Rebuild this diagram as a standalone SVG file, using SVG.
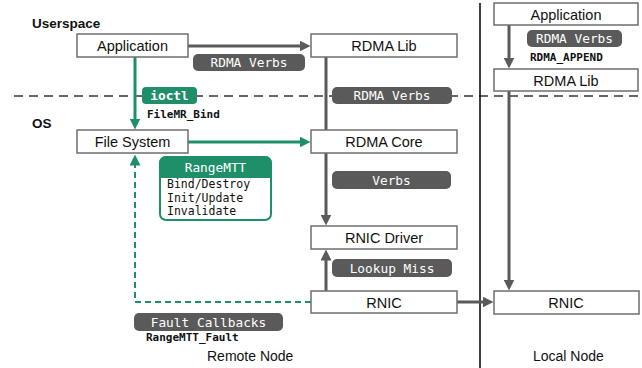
<svg xmlns="http://www.w3.org/2000/svg" width="642" height="368" viewBox="0 0 642 368">
<style>
.box{fill:#fff;stroke:#6e6e6e;stroke-width:1.5}
.lbl{font-family:"Liberation Sans",Arial,sans-serif;font-size:14.5px;fill:#111;text-anchor:middle}
.hdr{font-family:"Liberation Sans",Arial,sans-serif;font-size:13.5px;font-weight:bold;fill:#111}
.cap{font-family:"Liberation Sans",Arial,sans-serif;font-size:14px;fill:#111}
.pill{fill:#5a5a5a}
.gpill{fill:#1f8f6a}
.ptxt{font-family:"DejaVu Sans Mono",monospace;font-size:12.8px;fill:#fff;text-anchor:middle}
.mono{font-family:"DejaVu Sans Mono",monospace;font-size:11px;font-weight:bold;fill:#111}
.list{font-family:"DejaVu Sans Mono",monospace;font-size:11.5px;fill:#111}
.ga{fill:none;stroke:#5a5a5a;stroke-width:3}
.gr{fill:none;stroke:#1f8f6a;stroke-width:3}
.gd{fill:none;stroke:#1f8f6a;stroke-width:2;stroke-dasharray:6 4}
</style>
<defs>
<marker id="ag" viewBox="0 0 11 11" refX="0.5" refY="5.5" markerWidth="11" markerHeight="11" markerUnits="userSpaceOnUse" orient="auto"><path d="M0,0 L11,5.5 L0,11 z" fill="#5a5a5a"/></marker>
<marker id="agr" viewBox="0 0 11 11" refX="0.5" refY="5.5" markerWidth="11" markerHeight="11" markerUnits="userSpaceOnUse" orient="auto"><path d="M0,0 L11,5.5 L0,11 z" fill="#1f8f6a"/></marker>
</defs>
<rect width="642" height="368" fill="#fff"/>
<g id="separators">
<line x1="14" y1="96" x2="642" y2="96" stroke="#666" stroke-width="2" stroke-dasharray="9 6"/>
<line x1="480" y1="3" x2="480" y2="368" stroke="#000" stroke-width="1.5"/>
</g>
<text class="hdr" x="32" y="28">Userspace</text>
<text class="hdr" x="32" y="128">OS</text>
<g id="connectors">
<path class="ga" d="M188,46 H300" marker-end="url(#ag)"/>
<path class="gr" d="M135,57 V119" marker-end="url(#agr)"/>
<path class="gr" d="M188,142 H300" marker-end="url(#agr)"/>
<path class="ga" d="M326,57 V215" marker-end="url(#ag)"/>
<path class="ga" d="M509,25 V58" marker-end="url(#ag)"/>
<path class="ga" d="M509,91 V280" marker-end="url(#ag)"/>
<path class="ga" d="M326,291 V260" marker-end="url(#ag)"/>
<path class="ga" d="M457,302 H483" marker-end="url(#ag)"/>
<path class="gd" d="M311,302 H135 V165" marker-end="url(#agr)"/>
</g>
<g id="app-remote"><rect class="box" x="77" y="34" width="111" height="23"/><text class="lbl" x="132.5" y="51">Application</text></g>
<g id="rdmalib-remote"><rect class="box" x="311" y="34" width="146" height="23"/><text class="lbl" x="384" y="51">RDMA Lib</text></g>
<g id="fs"><rect class="box" x="77" y="130" width="111" height="23"/><text class="lbl" x="132.5" y="147">File System</text></g>
<g id="rdmacore"><rect class="box" x="311" y="130" width="146" height="23"/><text class="lbl" x="384" y="147">RDMA Core</text></g>
<g id="rnicdriver"><rect class="box" x="311" y="226" width="146" height="23"/><text class="lbl" x="384" y="243">RNIC Driver</text></g>
<g id="rnic-remote"><rect class="box" x="311" y="291" width="146" height="22"/><text class="lbl" x="384" y="308">RNIC</text></g>
<g id="app-local"><rect class="box" x="494" y="3" width="144" height="22"/><text class="lbl" x="566" y="20">Application</text></g>
<g id="rdmalib-local"><rect class="box" x="494" y="69" width="144" height="22"/><text class="lbl" x="566" y="86">RDMA Lib</text></g>
<g id="rnic-local"><rect class="box" x="494" y="291" width="145" height="23"/><text class="lbl" x="566" y="308">RNIC</text></g>
<g id="rangemtt">
<rect x="160" y="157" width="111" height="63" rx="6" fill="#fff" stroke="#1f8f6a" stroke-width="2"/>
<path d="M160,177 V163 A6,6 0 0 1 166,157 H265 A6,6 0 0 1 271,163 V177 z" fill="#1f8f6a" stroke="#1f8f6a" stroke-width="2"/>
<text x="215.5" y="172" font-family="DejaVu Sans Mono,monospace" font-size="12.8px" fill="#fff" text-anchor="middle">RangeMTT</text>
<text class="list" x="167" y="188">Bind/Destroy</text>
<text class="list" x="167" y="202">Init/Update</text>
<text class="list" x="167" y="215">Invalidate</text>
</g>
<g id="labels">
<rect class="pill" x="193" y="54" width="112" height="17" rx="5"/><text class="ptxt" x="249" y="67">RDMA Verbs</text>
<rect class="pill" x="332" y="87" width="120" height="17" rx="5"/><text class="ptxt" x="392" y="100">RDMA Verbs</text>
<rect class="pill" x="527" y="30" width="95" height="17" rx="5"/><text class="ptxt" x="574.5" y="43">RDMA Verbs</text>
<text class="mono" x="530" y="61">RDMA_APPEND</text>
<rect class="pill" x="332" y="171" width="119" height="18" rx="5"/><text class="ptxt" x="391.5" y="184.5">Verbs</text>
<rect class="pill" x="332" y="259" width="120" height="18" rx="5"/><text class="ptxt" x="392" y="272.5">Lookup Miss</text>
<rect class="pill" x="134" y="313" width="149" height="18" rx="5"/><text class="ptxt" x="208.5" y="326.5">Fault Callbacks</text>
<text class="mono" x="146" y="341">RangeMTT_Fault</text>
<rect class="gpill" x="142" y="87" width="55" height="17" rx="4"/><text class="ptxt" x="169.5" y="100" font-weight="bold">ioctl</text>
<text class="mono" x="147" y="118">FileMR_Bind</text>
</g>
<text class="cap" x="207" y="361">Remote Node</text>
<text class="cap" x="533" y="361">Local Node</text>
</svg>
